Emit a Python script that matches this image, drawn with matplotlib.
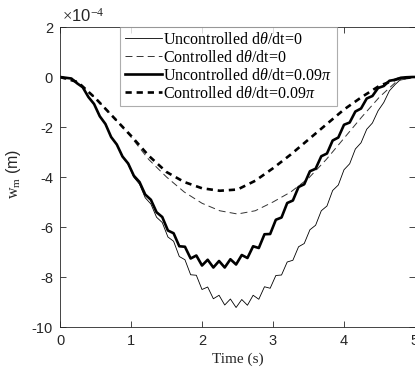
import matplotlib
matplotlib.use("Agg")
import matplotlib.pyplot as plt

plt.rcParams['font.family'] = ['Liberation Sans', 'DejaVu Sans']
plt.rcParams['mathtext.fontset'] = 'custom'
plt.rcParams['mathtext.rm'] = 'Liberation Serif'
plt.rcParams['mathtext.it'] = 'Liberation Serif:italic'
plt.rcParams['mathtext.bf'] = 'Liberation Serif:bold'
plt.rcParams['lines.scale_dashes'] = False

# ---- data (values in units of 1e-4 m) ----
t_ripple = [0.00, 0.08, 0.16, 0.24, 0.32, 0.40, 0.48, 0.56, 0.64, 0.72,
            0.80, 0.88, 0.96, 1.04, 1.12, 1.20, 1.28, 1.36, 1.44, 1.52,
            1.60, 1.68, 1.76, 1.84, 1.92, 2.00, 2.08, 2.16, 2.24, 2.32,
            2.40, 2.48, 2.56, 2.64, 2.72, 2.80, 2.88, 2.96, 3.04, 3.12,
            3.20, 3.28, 3.36, 3.44, 3.52, 3.60, 3.68, 3.76, 3.84, 3.92,
            4.00, 4.08, 4.16, 4.24, 4.32, 4.40, 4.48, 4.56, 4.64, 4.72,
            4.80, 4.88, 4.96, 5.00]

uncontrolled_0 = [0.00, -0.03, -0.06, -0.25, -0.41, -0.80, -1.08, -1.57, -1.88, -2.40,
                  -2.70, -3.19, -3.49, -4.01, -4.29, -4.83, -5.08, -5.61, -5.82, -6.40,
                  -6.57, -7.18, -7.31, -7.91, -7.93, -8.50, -8.40, -8.87, -8.73, -9.12,
                  -8.88, -9.22, -8.90, -9.13, -8.73, -8.89, -8.39, -8.45, -7.94, -7.92,
                  -7.40, -7.33, -6.79, -6.66, -6.11, -5.93, -5.35, -5.16, -4.54, -4.32,
                  -3.71, -3.47, -2.88, -2.63, -2.09, -1.84, -1.35, -1.02, -0.55, -0.30,
                  -0.09, -0.03, 0.00, 0.00]

uncontrolled_009 = [0.00, -0.03, -0.06, -0.25, -0.41, -0.80, -1.08, -1.57, -1.88, -2.40,
                    -2.70, -3.18, -3.46, -3.95, -4.20, -4.70, -4.91, -5.41, -5.60, -6.14,
                    -6.25, -6.77, -6.79, -7.26, -7.14, -7.54, -7.31, -7.62, -7.36, -7.62,
                    -7.29, -7.50, -7.12, -7.24, -6.77, -6.84, -6.29, -6.28, -5.71, -5.62,
                    -5.04, -4.94, -4.40, -4.29, -3.77, -3.67, -3.17, -3.06, -2.54, -2.42,
                    -1.91, -1.82, -1.38, -1.26, -0.86, -0.76, -0.44, -0.36, -0.15, -0.11,
                    -0.03, -0.01, 0.00, 0.00]

t_smooth = [0.00, 0.25, 0.50, 0.75, 1.00, 1.25, 1.50, 1.75, 2.00, 2.25, 2.50,
            2.75, 3.00, 3.25, 3.50, 3.75, 4.00, 4.25, 4.50, 4.75, 5.00]

controlled_0 = [0.00, -0.20, -0.85, -1.60, -2.40, -3.30, -4.00, -4.60, -5.05, -5.35, -5.48,
                -5.35, -5.00, -4.60, -4.05, -3.30, -2.45, -1.60, -0.80, -0.15, 0.00]

controlled_009 = [0.00, -0.20, -0.85, -1.60, -2.35, -3.15, -3.80, -4.20, -4.45, -4.55, -4.50,
                  -4.15, -3.65, -3.10, -2.50, -1.90, -1.30, -0.80, -0.35, -0.08, 0.00]

labels = [r'Uncontrolled d$\it{\theta}$/dt=0',
          r'Controlled d$\it{\theta}$/dt=0',
          r'Uncontrolled d$\it{\theta}$/dt=0.09$\it{\pi}$',
          r'Controlled d$\it{\theta}$/dt=0.09$\it{\pi}$']

xticks = [0, 1, 2, 3, 4, 5]
yticks = [2, 0, -2, -4, -6, -8, -10]

# ---- figure ----
fig = plt.figure(figsize=(4.15, 3.70), dpi=100)
ax = fig.add_axes([0.1446, 0.1162, 0.8554, 0.8108])

ax.plot(t_ripple, uncontrolled_0, color='black', lw=0.6, label=labels[0])
ax.plot(t_smooth, controlled_0, color='#333333', lw=0.7, dashes=(5, 3), label=labels[1])
ax.plot(t_ripple, uncontrolled_009, color='black', lw=1.9, label=labels[2])
ax.plot(t_smooth, controlled_009, color='black', lw=1.9, dashes=(4.5, 3.5), label=labels[3])

ax.set_xlim(0, 5)
ax.set_ylim(-10, 2)
ax.set_xticks(xticks)
ax.set_yticks(yticks)
ax.set_xticklabels([str(v) for v in xticks])
ax.set_yticklabels([str(v) for v in yticks])

axis_col = '#262626'
for sp in ax.spines.values():
    sp.set_color(axis_col)
    sp.set_linewidth(0.6)
ax.tick_params(direction='in', length=4, width=0.6, colors=axis_col,
               labelsize=10.5, top=True, right=True, pad=5)

ax.set_xlabel('Time (s)', family='Liberation Serif', fontsize=11, color=axis_col, labelpad=3)
ax.set_ylabel(r'$\mathrm{w_m}$ (m)', fontsize=11.5, color=axis_col)
ax.yaxis.set_label_coords(-0.105, 0.51)

ax.text(0.006, 1.008, r'$\times$10$^{-4}$', transform=ax.transAxes, fontsize=12,
        color=axis_col, ha='left', va='bottom', family='Liberation Sans')

leg = ax.legend(loc='upper left', bbox_to_anchor=(0.169, 1.0), borderaxespad=0,
                prop={'family': 'Liberation Serif', 'size': 11.5},
                frameon=True, fancybox=False, edgecolor='#999999',
                labelspacing=0.12, borderpad=0.3, handlelength=2.3,
                handletextpad=0.1)
leg.get_frame().set_linewidth(0.8)

fig.savefig('out.png', dpi=100)
